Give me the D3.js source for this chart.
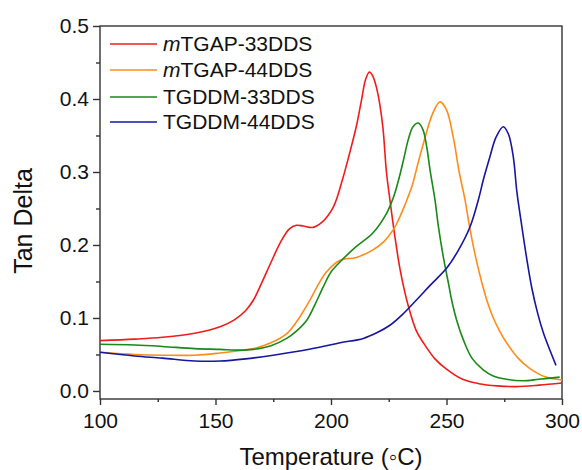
<!DOCTYPE html>
<html><head><meta charset="utf-8">
<script src="https://cdn.jsdelivr.net/npm/d3@7"></script>
<style>body{margin:0;background:#fff}svg{display:block}text{font-family:Arial,"Liberation Sans",sans-serif;fill:#111}</style>
</head><body><svg id="c" width="582" height="470"></svg>
<script>
const seriesNames = ["mTGAP-33DDS","mTGAP-44DDS","TGDDM-33DDS","TGDDM-44DDS"];
const seriesColors = ["#f01c1c","#ff8c1a","#178a17","#1616a0"];
const xTicks = [100,150,200,250,300];
const yTicks = [0.0,0.1,0.2,0.3,0.4,0.5];

const t33m = [100,115,127,141,152,158,163,166.5,170,174,178,182,185,188,192,196,201,205,208,211,213,215,216.6,218,219.5,221,222.5,224,225.5,227.5,230,233.5,237,240,245,250,257,264,272,280,290,300];
const v33m = [0.069,0.071,0.0735,0.079,0.088,0.097,0.110,0.125,0.148,0.176,0.203,0.222,0.227,0.226,0.224,0.231,0.252,0.290,0.325,0.363,0.395,0.427,0.437,0.432,0.418,0.395,0.360,0.300,0.262,0.215,0.165,0.116,0.082,0.066,0.044,0.030,0.016,0.010,0.007,0.006,0.008,0.011];

const t44m = [100,115,127,141,152,160,166.5,174,181,186,191,194,198,204,211,218,223,227,229,232,235,237.5,240,244,247.2,250,252.9,255.5,258,260.2,262.5,265,267.5,270,273,276,281,286,293,300];
const v44m = [0.053,0.050,0.049,0.049,0.052,0.055,0.058,0.066,0.079,0.099,0.125,0.143,0.163,0.179,0.183,0.193,0.205,0.221,0.233,0.255,0.280,0.310,0.339,0.380,0.396,0.385,0.348,0.300,0.262,0.221,0.185,0.152,0.124,0.102,0.082,0.066,0.045,0.031,0.019,0.015];

const t33t = [100,115,127,141,152,160,166.4,174,180.8,185,189.5,193,196.7,200,204.6,211,218,224,227,229.5,231.5,233.5,235.5,237.8,239.8,241.4,243,245,246.5,248.6,251,252.2,254.4,257.3,261,265.9,270,276,283,290,299];
const v33t = [0.064,0.063,0.061,0.058,0.057,0.056,0.057,0.062,0.072,0.082,0.097,0.118,0.143,0.163,0.179,0.198,0.216,0.243,0.265,0.292,0.318,0.345,0.362,0.367,0.358,0.335,0.300,0.262,0.225,0.184,0.145,0.125,0.097,0.070,0.045,0.029,0.021,0.016,0.014,0.016,0.019];

const t44t = [100,115,127,141,152,163,175,185,195,204,214,220,225.5,231,237.1,243,250,255,260.2,263.8,266,268.8,271.5,274.6,276.8,278.9,280.5,282.5,284.7,287,289.5,292,295,297.4];
const v44t = [0.053,0.048,0.045,0.041,0.041,0.044,0.049,0.054,0.060,0.066,0.072,0.080,0.090,0.105,0.125,0.145,0.168,0.192,0.225,0.262,0.290,0.321,0.348,0.362,0.352,0.321,0.272,0.228,0.182,0.140,0.106,0.079,0.054,0.035];

const seriesT = [t33m,t44m,t33t,t44t];
const seriesV = [v33m,v44m,v33t,v44t];

const svg = d3.select("#c");
const L=100,R=562,T=26,B=399;
const x = d3.scaleLinear().domain([100,300]).range([L,R]);
const y = d3.scaleLinear().domain([-0.011,0.5]).range([B,T]);

svg.append("rect").attr("x",L).attr("y",T).attr("width",R-L).attr("height",B-T)
  .attr("fill","none").attr("stroke","#333").attr("stroke-width",1.4);

const fs = 21;
const xAx = svg.append("g").attr("transform",`translate(0,${B})`)
  .call(d3.axisBottom(x).tickValues(xTicks).tickFormat(d3.format("d")).tickSize(6).tickPadding(8));
const xMinor = svg.append("g").attr("transform",`translate(0,${B})`)
  .call(d3.axisBottom(x).tickValues([125,175,225,275]).tickFormat("").tickSize(3));
const yAx = svg.append("g").attr("transform",`translate(${L},0)`)
  .call(d3.axisLeft(y).tickValues(yTicks).tickFormat(d3.format(".1f")).tickSize(7).tickPadding(4));
const yMinor = svg.append("g").attr("transform",`translate(${L},0)`)
  .call(d3.axisLeft(y).tickValues([0.05,0.15,0.25,0.35,0.45]).tickFormat("").tickSize(4));
[xAx,xMinor,yAx,yMinor].forEach(g=>{
  g.select(".domain").remove();
  g.selectAll("line").attr("stroke","#333").attr("stroke-width",1.4);
  g.selectAll("text").attr("font-size",fs).attr("fill","#111").style("font-family","Arial, 'Liberation Sans', sans-serif");
});

const line = d3.line().curve(d3.curveCatmullRom.alpha(0.5));
seriesT.forEach((ts,i)=>{
  const pts = ts.map((t,j)=>[x(t),y(seriesV[i][j])]);
  svg.append("path").attr("d",line(pts)).attr("fill","none")
    .attr("stroke",seriesColors[i]).attr("stroke-width",1.6);
});

const legY = [44,70,97,122];
seriesNames.forEach((n,i)=>{
  svg.append("line").attr("x1",110).attr("x2",157).attr("y1",legY[i]).attr("y2",legY[i])
    .attr("stroke",seriesColors[i]).attr("stroke-width",1.6);
  const tx = svg.append("text").attr("x",163).attr("y",legY[i]).attr("dy","0.35em").attr("font-size",fs);
  if (n.startsWith("m")) {
    tx.append("tspan").attr("font-style","italic").text("m");
    tx.append("tspan").text(n.slice(1));
  } else tx.text(n);
});

svg.append("text").attr("x",331).attr("y",457).attr("dy","0.35em").attr("text-anchor","middle")
  .attr("font-size",24).text("Temperature (\u25E6C)");
svg.append("text").attr("transform",`translate(23,221) rotate(-90)`).attr("dy","0.35em")
  .attr("text-anchor","middle").attr("font-size",25).text("Tan Delta");
</script></body></html>
